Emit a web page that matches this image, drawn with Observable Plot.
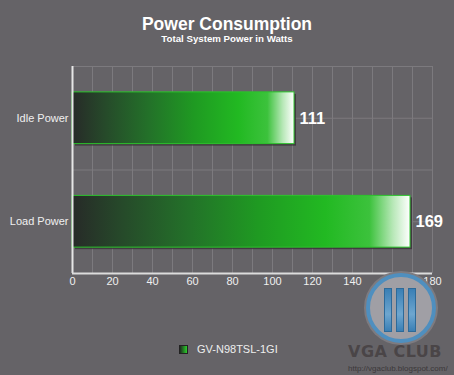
<!DOCTYPE html>
<html>
<head>
<meta charset="utf-8">
<script src="https://cdn.jsdelivr.net/npm/d3@7"></script>
<script src="https://cdn.jsdelivr.net/npm/@observablehq/plot@0.6"></script>
<style>
  html, body { margin: 0; padding: 0; background: #656367; }
  #wrap { position: relative; width: 454px; height: 375px; overflow: hidden; background: #656367; font-family: "Liberation Sans", Arial, sans-serif; }
  #title { position: absolute; left: 0; width: 454px; top: 14px; text-align: center; color: #fff; font-weight: bold; font-size: 17.5px; line-height: 20px; }
  #subtitle { position: absolute; left: 0; width: 454px; top: 33px; text-align: center; color: #fff; font-weight: bold; font-size: 9.7px; line-height: 11px; }
  #chart { position: absolute; left: 0; top: 0; }
  #legend { position: absolute; left: 179px; top: 341px; color: #eee; font-size: 11px; line-height: 16px; display: flex; align-items: center; white-space: nowrap; }
  #legend .sw { width: 7px; height: 7px; background: linear-gradient(to right, #1e2a1f, #2bd02b); border: 1px solid #222; margin-right: 9px; }
  #wm-ring { position: absolute; left: 366px; top: 273px; width: 62px; height: 62px; border-radius: 50%; border: 4px solid #4f8fbf; background: #a09fa5; box-shadow: 0 0 0 2px #7d7b80; }
  .wm-bar { position: absolute; top: 288px; width: 6px; height: 42px; background: linear-gradient(#3a7fb5, #6ea6cf 60%, #3a7fb5); border: 1px solid #2e6a99; }
  #wm-text { position: absolute; left: 348px; top: 343px; color: #4a4547; font-weight: bold; font-size: 16px; line-height: 18px; letter-spacing: 0.5px; font-family: "DejaVu Sans", sans-serif; white-space: nowrap; }
  #wm-url { position: absolute; left: 348px; top: 364px; color: #3c383a; font-size: 8px; line-height: 10px; white-space: nowrap; }
</style>
</head>
<body>
<svg width="0" height="0" style="position:absolute">
  <defs>
    <linearGradient id="barGrad" x1="0" y1="0" x2="1" y2="0">
      <stop offset="0" stop-color="#272a28"/>
      <stop offset="0.15" stop-color="#264a2a"/>
      <stop offset="0.35" stop-color="#237229"/>
      <stop offset="0.55" stop-color="#1f9a22"/>
      <stop offset="0.75" stop-color="#22b922"/>
      <stop offset="0.88" stop-color="#3cc23c"/>
      <stop offset="0.95" stop-color="#b8e8b8"/>
      <stop offset="1" stop-color="#ffffff"/>
    </linearGradient>
  </defs>
</svg>
<div id="wrap">
  <div id="chart"></div>
  <div id="title">Power Consumption</div>
  <div id="subtitle">Total System Power in Watts</div>
  <div id="wm-ring"></div>
  <div class="wm-bar" style="left:384px"></div>
  <div class="wm-bar" style="left:396px"></div>
  <div class="wm-bar" style="left:408px"></div>
  <div id="wm-text">VGA CLUB</div>
  <div id="wm-url">http://vgaclub.blogspot.com/</div>
  <div id="legend"><div class="sw"></div><span>GV-N98TSL-1GI</span></div>
</div>
<script>
const categories = ["Idle Power", "Load Power"];
const values = [111, 169];
const seriesName = "GV-N98TSL-1GI";
const xTicks = [0, 20, 40, 60, 80, 100, 120, 140, 160, 180];
const xGrid = [10, 20, 30, 40, 50, 60, 70, 80, 90, 100, 110, 120, 130, 140, 150, 160, 170, 180];

const data = categories.map((c, i) => ({category: c, value: values[i], idx: i}));
const yGrid = d3.range(0, categories.length + 0.01, 0.5);

const chart = Plot.plot({
  width: 454,
  height: 300,
  marginTop: 66,
  marginBottom: 27,
  marginLeft: 72,
  marginRight: 22,
  style: {background: "transparent", fontFamily: "Liberation Sans, Arial, sans-serif", overflow: "visible"},
  x: {domain: [0, 180], ticks: xTicks, tickSize: 0, tickPadding: 4, label: null},
  y: {domain: [0, categories.length], reverse: true, ticks: categories.map((c, i) => i + 0.5), tickFormat: v => categories[Math.floor(v)], tickSize: 0, tickPadding: 4, label: null},
  marks: [
    Plot.ruleX(xGrid, {stroke: "#7c7a7e", strokeWidth: 1}),
    Plot.ruleY(yGrid, {stroke: "#7c7a7e", strokeWidth: 1}),
    Plot.rectX(data, {x1: 0, x2: "value", y1: d => d.idx + 0.25, y2: d => d.idx + 0.75, fill: "#3a2f38", fillOpacity: 0.8, dx: 2, dy: 2, insetLeft: 1}),
    Plot.rectX(data, {x1: 0, x2: "value", y1: d => d.idx + 0.25, y2: d => d.idx + 0.75, fill: "url(#barGrad)", stroke: "#2cc42c", strokeWidth: 1}),
    Plot.text(data, {x: "value", y: d => d.idx + 0.5, text: d => String(d.value), dx: 5, textAnchor: "start", fill: "#ffffff", fontWeight: "bold", fontSize: 16.5}),
    Plot.ruleX([0], {stroke: "#e6e6e6", strokeWidth: 2}),
    Plot.ruleY([categories.length], {stroke: "#dcdcdc", strokeWidth: 2}),
    Plot.axisX({ticks: xTicks, tickSize: 0, tickPadding: 4, fontSize: 11, color: "#f0f0f0"}),
    Plot.axisY({ticks: categories.map((c, i) => i + 0.5), tickFormat: v => categories[Math.floor(v)], tickSize: 0, tickPadding: 4, fontSize: 11, color: "#f0f0f0"})
  ]
});
document.getElementById("chart").appendChild(chart);
document.querySelector("#legend span").textContent = seriesName;
</script>
</body>
</html>
